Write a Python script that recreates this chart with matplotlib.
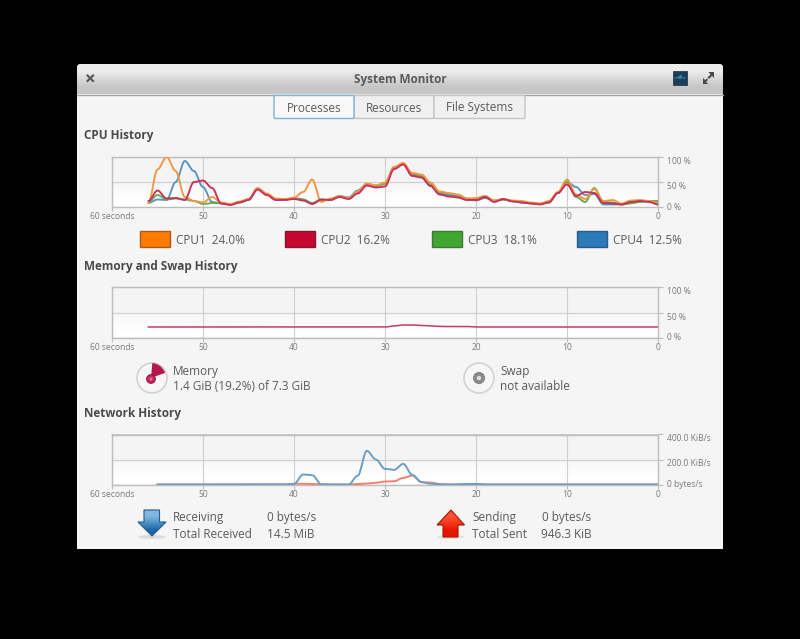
import numpy as np
import matplotlib
matplotlib.use("Agg")
import matplotlib.pyplot as plt
from matplotlib.patches import FancyBboxPatch, Rectangle, Polygon, Circle, Wedge, Ellipse

plt.rcParams['font.family'] = ['Open Sans', 'DejaVu Sans']

# ---------------- data ----------------
cpu_seconds = list(range(56, -1, -1))
cpu1 = [8, 75, 100, 72, 20, 12, 9,
        20, 9, 6, 11, 16, 38, 27, 17, 16, 19,
        30, 55, 10, 17, 22, 18, 31, 47, 43, 49,
        80, 88, 68, 65, 49, 31, 28, 25, 17, 18,
        22, 13, 16, 13, 12, 9, 7, 12, 30, 55,
        25, 16, 36, 12, 14, 7, 13, 14, 12, 8]
cpu2 = [12, 33, 17, 18, 14, 50, 53,
        38, 7, 4, 9, 14, 35, 24, 14, 14, 16,
        13, 6, 15, 14, 20, 16, 27, 43, 39, 41,
        76, 85, 62, 59, 42, 25, 21, 19, 14, 14,
        20, 10, 16, 11, 9, 7, 5, 9, 28, 45,
        22, 30, 28, 8, 7, 5, 10, 12, 10, 5]
cpu3 = [10, 24, 15, 17, 15, 12, 6,
        8, 8, 5, 9, 15, 36, 25, 15, 15, 18,
        15, 8, 15, 14, 21, 18, 30, 45, 42, 46,
        79, 86, 66, 62, 45, 30, 27, 24, 17, 14,
        20, 13, 15, 12, 10, 7, 6, 9, 28, 50,
        20, 10, 38, 10, 9, 5, 7, 10, 12, 12]
cpu4 = [8, 15, 14, 50, 92, 72, 40,
        10, 7, 5, 10, 15, 37, 26, 15, 15, 17,
        15, 7, 14, 14, 22, 19, 33, 46, 43, 47,
        80, 86, 63, 60, 43, 27, 24, 21, 15, 13,
        18, 12, 15, 12, 9, 8, 6, 10, 28, 50,
        40, 24, 26, 5, 5, 5, 10, 12, 11, 8]

mem_seconds = list(range(56, -1, -1))
memory = [21, 21, 21, 21, 21, 21, 21,
          21, 21, 21, 21, 21, 21, 21, 21, 21, 21,
          21, 21, 21, 21, 21, 21, 21, 21, 21, 21,
          23, 25, 25, 24, 23, 22, 22, 22, 22, 21,
          21, 21, 21, 21, 21, 21, 21, 21, 21, 21,
          21, 21, 21, 21, 21, 21, 21, 21, 21, 21]

net_seconds = list(range(55, -1, -1))
receiving = [0, 0, 0, 0, 0, 0,
             0, 0, 0, 0, 0, 0, 0, 0, 0, 4,
             80, 75, 2, 0, 0, 0, 70, 270, 200, 125,
             117, 165, 77, 20, 6, 2, 0, 0, 5, 6,
             0, 0, 0, 0, 0, 0, 0, 0, 0, 0,
             0, 0, 0, 0, 0, 0, 0, 0, 0, 0]
sending = [0, 0, 0, 0, 0, 0,
           0, 0, 0, 0, 0, 0, 0, 0, 0, 6,
           6, 4, 0, 0, 0, 0, 4, 8, 14, 24,
           26, 53, 72, 18, 16, 3, 0, 0, 3, 4,
           0, 0, 0, 0, 0, 0, 0, 0, 0, 0,
           0, 0, 0, 0, 0, 0, 0, 0, 0, 0]

x_ticks = [60, 50, 40, 30, 20, 10, 0]
x_tick_labels = ['60 seconds', '50', '40', '30', '20', '10', '0']
pct_ticks = [0, 50, 100]
pct_labels = ['0 %', '50 %', '100 %']
net_ticks = [0, 200, 400]
net_labels = ['0 bytes/s', '200.0 KiB/s', '400.0 KiB/s']

cpu_names = ['CPU1  24.0%', 'CPU2  16.2%', 'CPU3  18.1%', 'CPU4  12.5%']
cpu_line_colors = ['#f2963f', '#c8305a', '#62ad50', '#5594c4']
cpu_swatch_colors = ['#ff7a00', '#c6072f', '#3fa72f', '#2d7ab8']
cpu_swatch_edges = ['#a85a1a', '#7e1a30', '#3a7a30', '#2a5a85']

TXT = '#5a5a5a'
TICK = '#7a7a7a'
FS = 8.5
TICK_FS = 6.15

# ---------------- figure ----------------
fig = plt.figure(figsize=(8.0, 6.39), dpi=100, facecolor='black')
bg = fig.add_axes([0, 0, 1, 1])
bg.set_xlim(0, 800)
bg.set_ylim(639, 0)
bg.axis('off')


def gradient(ax, extent, rows, clip=None, zorder=1):
    arr = np.array(rows, dtype=float)
    arr = arr.reshape(arr.shape[0], 1, 3)
    xl, yl = ax.get_xlim(), ax.get_ylim()
    im = ax.imshow(arr, extent=extent, aspect='auto', interpolation='bilinear',
                   origin='upper', zorder=zorder)
    ax.set_xlim(xl)
    ax.set_ylim(yl)
    if clip is not None:
        im.set_clip_path(clip)
    return im


def label(x, y, s, **kw):
    opts = dict(ha='left', va='center', fontsize=FS, color=TXT, zorder=3)
    opts.update(kw)
    bg.text(x, y + 1, s, **opts)


# window
win = FancyBboxPatch((77, 64), 646, 540, boxstyle='round,pad=0,rounding_size=4',
                     fc='#f5f5f5', ec='none', zorder=0.5)
bg.add_patch(win)
title_clip = FancyBboxPatch((77, 64), 646, 60, boxstyle='round,pad=0,rounding_size=4',
                            fc='none', ec='none')
bg.add_patch(title_clip)
gradient(bg, (77, 723, 94.5, 64), [[.93, .93, .93], [.78, .78, .78]], clip=title_clip)
bg.add_patch(Rectangle((76, 549), 650, 90, fc='black', ec='none', zorder=6))
bg.plot([77, 723], [94.5, 94.5], color='#a5a5a5', lw=1, zorder=2)
label(400, 78, 'System Monitor', ha='center', fontweight='bold')

# title bar icons
bg.plot([87.5, 93], [75.5, 81], color='#555555', lw=1.5, zorder=3)
bg.plot([93, 87.5], [75.5, 81], color='#555555', lw=1.5, zorder=3)
bg.add_patch(Rectangle((673, 71), 14, 14, fc='#1d3c58', ec='#16304a', lw=0.5, zorder=3))
bg.plot([675, 678, 679, 680, 681, 682, 685], [78, 78, 76, 79, 75, 78, 78], color='#3f9fb8', lw=0.6, zorder=4)
bg.add_patch(Polygon([[714, 72], [714, 78], [712, 76], [709, 79], [707.5, 77.5], [710.5, 74.5], [708.5, 72]],
                     fc='#4a4a4a', ec='none', zorder=3))
bg.add_patch(Polygon([[703, 84], [703, 78], [705, 80], [707, 78.5], [708, 80], [706, 82], [708.5, 84]],
                     fc='#4a4a4a', ec='none', zorder=3))

# tab buttons
buttons = [('Processes', 274, 354), ('Resources', 354, 434), ('File Systems', 434, 525)]
for name, x0, x1 in buttons:
    active = name == 'Processes'
    bg.add_patch(FancyBboxPatch((x0, 95.5), x1 - x0, 23, boxstyle='round,pad=0,rounding_size=1.5',
                                fc='#f8f8f8' if active else '#f0f0f0',
                                ec='#7fb3d8' if active else '#c4c4c4', lw=1, zorder=3 if not active else 3.5))
    label((x0 + x1) / 2, 107, name, ha='center', zorder=4)

# section titles
for title, y in [('CPU History', 134.5), ('Memory and Swap History', 265.5), ('Network History', 412)]:
    label(84, y, title, fontweight='bold', color='#4a4a4a')


def smooth(xs, ys, n=12):
    """Same smooth joins the monitor draws between its samples."""
    xs, ys = np.asarray(xs, float), np.asarray(ys, float)
    t = np.linspace(0, 1, n, endpoint=False)
    s = 3 * t ** 2 - 2 * t ** 3
    X = np.concatenate([x0 + (x1 - x0) * t for x0, x1 in zip(xs[:-1], xs[1:])] + [[xs[-1]]])
    Y = np.concatenate([y0 + (y1 - y0) * s for y0, y1 in zip(ys[:-1], ys[1:])] + [[ys[-1]]])
    return X, Y


def chart(top, ymax, yticks, ylabels):
    ax = fig.add_axes([112 / 800, 1 - (top + 50) / 639, 546 / 800, 50 / 639], zorder=2)
    ax.imshow(np.array([.96, .96, .96, .985, 1.0]).reshape(5, 1).repeat(3, 1).reshape(5, 1, 3),
              extent=(60, 0, 0, ymax), aspect='auto', interpolation='bilinear', zorder=0)
    ax.set_xlim(60, 0)
    ax.set_ylim(0, ymax)
    ax.patch.set_visible(False)
    for s in ax.spines.values():
        s.set_color('#bdbdbd')
        s.set_linewidth(1)
    ax.set_xticks(x_ticks, x_tick_labels)
    ax.yaxis.tick_right()
    ax.set_yticks(yticks, ylabels)
    ax.tick_params(axis='x', length=3, width=0.8, color='#bdbdbd', labelsize=TICK_FS, labelcolor=TICK, pad=0.8)
    ax.tick_params(axis='y', length=3.5, width=0.8, color='#bdbdbd', labelsize=TICK_FS, labelcolor=TICK, pad=3)
    labs = ax.get_yticklabels()
    labs[0].set_va('center')
    labs[1].set_va('top')
    labs[2].set_va('top')
    ax.grid(True, color='#cfcfcf', lw=0.8, zorder=1)
    ax.set_axisbelow(True)
    return ax


# CPU chart
ax1 = chart(157, 100, pct_ticks, pct_labels)
for series, col in [(cpu4, cpu_line_colors[3]), (cpu3, cpu_line_colors[2]),
                    (cpu1, cpu_line_colors[0]), (cpu2, cpu_line_colors[1])]:
    ax1.plot(*smooth(cpu_seconds, series), color=col, lw=1.35, solid_capstyle='round', zorder=3)

swatch_x = [140, 285, 432, 577]
for name, x, c, e in zip(cpu_names, swatch_x, cpu_swatch_colors, cpu_swatch_edges):
    bg.add_patch(Rectangle((x, 231), 30, 16, fc=c, ec=e, lw=1, zorder=3))
    label(x + 36, 239, name)

# Memory chart
ax2 = chart(287.5, 100, pct_ticks, pct_labels)
ax2.plot(*smooth(mem_seconds, memory), color='#c83a68', lw=1.1, zorder=3)

# Memory / swap icons and text
bg.add_patch(Circle((152, 378), 15, fc='#f6f6f6', ec='#d2d2d2', lw=1.2, zorder=3))
bg.add_patch(Wedge((151, 378), 15, 275, 340, fc='#b5164e', ec='none', zorder=4))
bg.add_patch(Circle((151, 379), 4.3, fc='#c02a5e', ec='#9e1040', lw=0.8, zorder=5))
bg.add_patch(Circle((151, 379), 1.6, fc='#e06a90', ec='none', zorder=5.5))
label(173, 370, 'Memory')
label(173, 386, '1.4 GiB (19.2%) of 7.3 GiB')

bg.add_patch(Circle((479, 378), 15, fc='#f6f6f6', ec='#d2d2d2', lw=1.2, zorder=3))
bg.add_patch(Circle((479, 378), 5.5, fc='#8a8a8a', ec='#777777', lw=0.6, zorder=4))
bg.add_patch(Circle((479, 378), 2.2, fc='#dddddd', ec='none', zorder=5))
label(500, 370, 'Swap')
label(500, 386, 'not available')

# Network chart
ax3 = chart(434.5, 400, net_ticks, net_labels)
ax3.plot(*smooth(net_seconds, sending), color='#f0806e', lw=1.4, zorder=3)
ax3.plot(*smooth(net_seconds, receiving), color='#6a9fc6', lw=1.4, zorder=4)

# Arrows
bg.add_patch(Ellipse((152, 537), 28, 4, fc='#dcdcdc', ec='none', zorder=2))
down = Polygon([[144, 510], [159.5, 510], [159.5, 522], [166, 522], [152, 536], [138, 522], [144, 522]],
               fc='none', ec='#245f93', lw=0.8, zorder=4)
bg.add_patch(down)
gradient(bg, (137, 167, 537, 509), [[.50, .72, .88], [.12, .40, .66]], clip=down, zorder=3)
bg.add_patch(Ellipse((451, 537), 28, 4, fc='#e2e2e2', ec='none', zorder=2))
up = Polygon([[451, 510], [464.5, 525], [458, 525], [458, 537], [443, 537], [443, 525], [437, 525]],
             fc='none', ec='#a81400', lw=0.8, zorder=4)
bg.add_patch(up)
gradient(bg, (436, 466, 538, 509), [[1.0, .33, .20], [.90, .08, .0]], clip=up, zorder=3)

for x, y, s in [(173, 517, 'Receiving'), (173, 533, 'Total Received'), (267, 517, '0 bytes/s'), (267, 533, '14.5 MiB'),
                (472, 517, 'Sending'), (472, 533, 'Total Sent'), (542, 517, '0 bytes/s'), (541, 533, '946.3 KiB')]:
    label(x, y, s)

fig.savefig('out.png', dpi=100, facecolor='black')
